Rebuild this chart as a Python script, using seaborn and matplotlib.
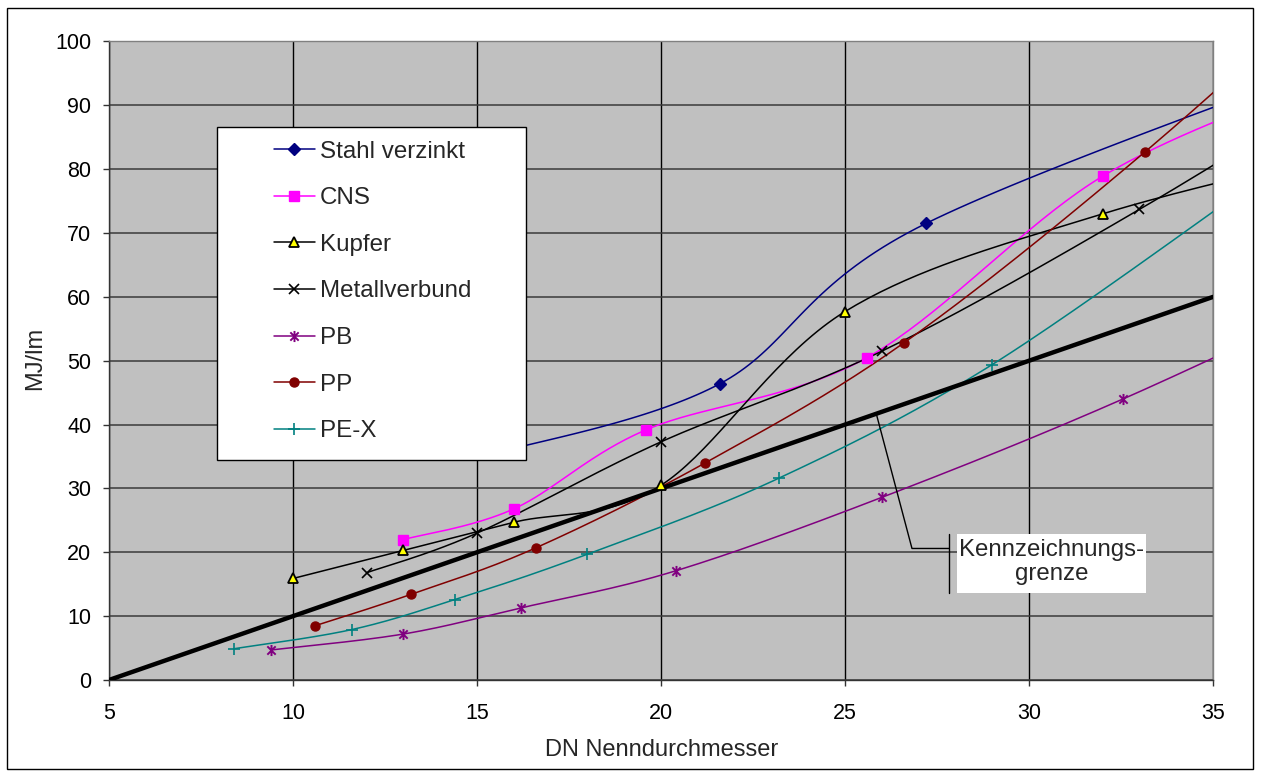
import numpy as np
import matplotlib
matplotlib.use("Agg")
import matplotlib.pyplot as plt
from matplotlib.lines import Line2D
from matplotlib.patches import Rectangle
from matplotlib.path import Path
import seaborn as sns

# ---------------- data ----------------
stahl_x = [15.5, 21.6, 27.2, 42.0]
stahl_y = [35.5, 46.4, 71.5, 104.5]
cns_x = [13.0, 16.0, 19.6, 25.6, 32.0, 38.4]
cns_y = [22.0, 26.8, 39.2, 50.5, 78.9, 95.0]
kupfer_x = [10.0, 13.0, 16.0, 20.0, 25.0, 32.0, 40.0]
kupfer_y = [15.9, 20.3, 24.7, 30.5, 57.7, 73.0, 84.5]
metall_x = [12.0, 15.0, 20.0, 26.0, 33.0, 40.0]
metall_y = [16.8, 23.0, 37.3, 51.5, 73.7, 98.5]
pb_x = [9.4, 13.0, 16.2, 20.4, 26.0, 32.55, 40.0]
pb_y = [4.7, 7.2, 11.3, 17.1, 28.6, 44.0, 64.0]
pp_x = [10.6, 13.2, 16.6, 21.2, 26.6, 33.15, 40.0]
pp_y = [8.5, 13.4, 20.7, 34.0, 52.8, 82.7, 118.0]
pex_x = [8.4, 11.6, 14.4, 18.0, 23.2, 29.0, 36.5]
pex_y = [4.9, 7.9, 12.6, 19.7, 31.6, 49.4, 79.5]
grenze_x = [5, 35]
grenze_y = [0, 60]

series_names = ["Stahl verzinkt", "CNS", "Kupfer", "Metallverbund", "PB", "PP", "PE-X"]
x_ticks = [5, 10, 15, 20, 25, 30, 35]
y_ticks = [0, 10, 20, 30, 40, 50, 60, 70, 80, 90, 100]
x_label = "DN Nenndurchmesser"
y_label = "MJ/lm"
note_text = "Kennzeichnungs-\ngrenze"

# callout geometry (annotation, not data)
callout_x = [25.85, 26.82, 27.82]
callout_y = [41.7, 20.6, 20.6]
bar_x = [27.82, 27.82]
bar_y = [22.9, 13.6]
note_box = (28.04, 13.6, 5.15, 9.3)

# ---------------- style ----------------
sns.set_style("white")
plt.rcParams['font.family'] = ['Liberation Sans', 'DejaVu Sans']

asterisk = Path([(0, -1), (0, 1), (-0.75, -0.75), (0.75, 0.75), (-0.75, 0.75), (0.75, -0.75)],
                [Path.MOVETO, Path.LINETO, Path.MOVETO, Path.LINETO, Path.MOVETO, Path.LINETO])

styles = [
    dict(color="#000080", marker="D", ms=6.5, mfc="#000080", mec="#000080", mew=1),
    dict(color="#FF00FF", marker="s", ms=7, mfc="#FF00FF", mec="#FF00FF", mew=1),
    dict(color="#000000", marker="^", ms=7, mfc="#FFFF00", mec="#000000", mew=1.3),
    dict(color="#000000", marker="x", ms=7, mfc="none", mec="#000000", mew=1.2),
    dict(color="#800080", marker=asterisk, ms=8, mfc="none", mec="#800080", mew=1.4),
    dict(color="#800000", marker="o", ms=6.5, mfc="#800000", mec="#800000", mew=1),
    dict(color="#008080", marker="+", ms=9, mfc="none", mec="#008080", mew=1.2),
]
data = [(stahl_x, stahl_y), (cns_x, cns_y), (kupfer_x, kupfer_y), (metall_x, metall_y),
        (pb_x, pb_y), (pp_x, pp_y), (pex_x, pex_y)]


def smooth(xs, ys, n=40):
    """Excel-like smoothed line (Catmull-Rom Bezier) through the given points."""
    p = np.column_stack([xs, ys]).astype(float)
    ext = np.vstack([p[0], p, p[-1]])
    t = np.linspace(0, 1, n)[:, None]
    out = []
    for i in range(1, len(ext) - 2):
        p0, p1, p2, p3 = ext[i - 1], ext[i], ext[i + 1], ext[i + 2]
        b1 = p1 + (p2 - p0) / 6
        b2 = p2 - (p3 - p1) / 6
        seg = (1 - t) ** 3 * p1 + 3 * (1 - t) ** 2 * t * b1 + 3 * (1 - t) * t ** 2 * b2 + t ** 3 * p2
        out.append(seg if i == 1 else seg[1:])
    s = np.vstack(out)
    return s[:, 0], s[:, 1]


fig = plt.figure(figsize=(12.61, 7.71), dpi=100)
ax = fig.add_axes([109 / 1261, 91 / 771, 1104 / 1261, 638.5 / 771])
ax.set_facecolor("#C0C0C0")

for (xs, ys), st in zip(data, styles):
    sx, sy = smooth(xs, ys)
    sns.lineplot(x=sx, y=sy, sort=False, estimator=None, color=st["color"], lw=1.1,
                 ax=ax, legend=False, zorder=3)
    ax.plot(xs, ys, linestyle="none", marker=st["marker"], ms=st["ms"], mfc=st["mfc"],
            mec=st["mec"], mew=st["mew"], zorder=4)

sns.lineplot(x=grenze_x, y=grenze_y, color="black", lw=3.2, ax=ax, legend=False, zorder=3.5)

# callout
ax.plot(callout_x, callout_y, color="black", lw=1.0, zorder=5)
ax.plot(bar_x, bar_y, color="black", lw=1.0, zorder=5)
ax.add_patch(Rectangle(note_box[:2], note_box[2], note_box[3], fc="white", ec="none", zorder=6))
ax.text(note_box[0] + note_box[2] / 2, note_box[1] + note_box[3] / 2 + 0.2, note_text,
        ha="center", va="center", fontsize=17.3, linespacing=1.15, zorder=7)

ax.set_xlim(5, 35)
ax.set_ylim(0, 100)
ax.set_xticks(x_ticks)
ax.set_yticks(y_ticks)
ax.set_axisbelow(True)
ax.grid(axis="y", color="#3a3a3a", lw=1.1)
ax.grid(axis="x", color="#000000", lw=1.0)
ax.tick_params(axis="both", direction="out", length=4.3, width=1.0, color="#333333",
               labelsize=15.5, labelcolor="black")
ax.tick_params(axis="y", pad=8.5, left=True)
ax.tick_params(axis="x", pad=12.5, bottom=True)
for side in ["left", "bottom"]:
    ax.spines[side].set_color("#333333")
    ax.spines[side].set_linewidth(1.0)
for side in ["top", "right"]:
    ax.spines[side].set_color("#808080")
    ax.spines[side].set_linewidth(1.0)

ax.set_xlabel(x_label, fontsize=17)
ax.set_ylabel(y_label, fontsize=17)
ax.xaxis.set_label_coords(0.501, -0.093)
ax.yaxis.set_label_coords(-0.057, 0.503)

# legend box and legend
fig.add_artist(Rectangle((217.3 / 1261, 311 / 771), 308.7 / 1261, 332.7 / 771,
                         transform=fig.transFigure, fc="white", ec="black", lw=1.0, zorder=4))
handles = [Line2D([], [], color=st["color"], lw=1.1, marker=st["marker"], ms=st["ms"],
                  mfc=st["mfc"], mec=st["mec"], mew=st["mew"]) for st in styles]
leg = fig.legend(handles, series_names, loc="upper left",
                 bbox_to_anchor=(274 / 1261, 1 - 140.5 / 771), frameon=False, borderpad=0,
                 borderaxespad=0, fontsize=17.4, handlelength=1.69, handletextpad=0.22,
                 labelspacing=1.02, numpoints=1)
leg.set_zorder(5)

# outer figure border
fig.add_artist(Rectangle((7 / 1261, 2 / 771), 1246 / 1261, 761 / 771, transform=fig.transFigure,
                         fc="none", ec="black", lw=1.0, zorder=6))

fig.savefig("out.png", dpi=100)
